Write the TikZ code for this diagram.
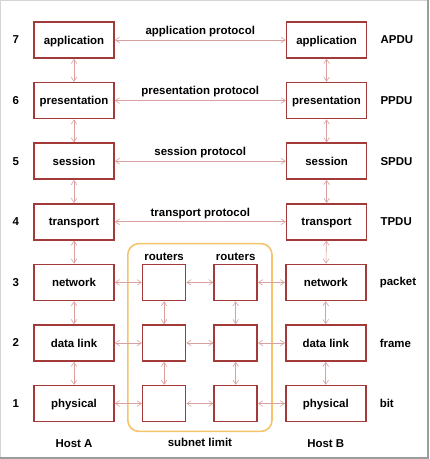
\documentclass[tikz,border=0pt]{standalone}
\usepackage{fontspec}
\setmainfont{Liberation Sans}
\usetikzlibrary{positioning,arrows.meta,fit,backgrounds}
\definecolor{boxred}{HTML}{A33A3A}
\definecolor{linkpink}{HTML}{D9A0A0}
\definecolor{subnet}{HTML}{F5C46A}
\definecolor{framegray}{HTML}{9C9C9C}
\definecolor{framelight}{HTML}{D4D4D4}
\tikzset{
  layer/.style={rectangle,draw=boxred,line width=1.6pt,fill=white,
    minimum width=80bp,minimum height=36bp,inner sep=0pt,outer sep=0.8pt,
    text height=8.3bp,text depth=0pt,
    font=\bfseries\fontsize{11.5}{13}\selectfont},
  router/.style={rectangle,draw=boxred,line width=1.6pt,fill=white,
    minimum width=43bp,minimum height=36bp,inner sep=0pt,outer sep=0.8pt},
  lnk/.style={{Straight Barb[length=1.5mm,width=2mm]}-{Straight Barb[length=1.5mm,width=2mm]},
    draw=linkpink,line width=0.6pt},
  lbl/.style={font=\bfseries\fontsize{11.5}{13}\selectfont,inner sep=0pt},
  limit/.style={draw=subnet,line width=1.6pt,rounded corners=11bp},
}

\begin{document}
\begin{tikzpicture}[x=1bp,y=-1bp,node distance=23bp and 27bp]
  \useasboundingbox (0,0) rectangle (429,459);
  % frame
  \draw[framelight,line width=1bp] (0.5,0.5) rectangle (428,458);
  \draw[framegray,line width=2bp] (428,0) -- (428,458) -- (0,458);

  % host A
  \node[layer] (a7) at (74,40) {application};
  \node[layer,below=of a7] (a6) {presentation};
  \node[layer,below=of a6] (a5) {session};
  \node[layer,below=of a5] (a4) {transport};
  \node[layer,below=of a4] (a3) {network};
  \node[layer,below=of a3] (a2) {data link};
  \node[layer,below=of a2] (a1) {physical};

  % routers
  \node[router,right=of a3] (r3l) {};
  \node[router,right=of a2] (r2l) {};
  \node[router,right=of a1] (r1l) {};
  \node[router,right=of r3l] (r3r) {};
  \node[router,right=of r2l] (r2r) {};
  \node[router,right=of r1l] (r1r) {};
  \node[lbl,above=3bp of r3l] (rtl) {routers};
  \node[lbl,above=3bp of r3r] (rtr) {routers};

  % host B
  \node[layer,right=171bp of a7] (b7) {application};
  \node[layer,right=171bp of a6] (b6) {presentation};
  \node[layer,right=171bp of a5] (b5) {session};
  \node[layer,right=171bp of a4] (b4) {transport};
  \node[layer,right=of r3r] (b3) {network};
  \node[layer,right=of r2r] (b2) {data link};
  \node[layer,right=of r1r] (b1) {physical};

  % subnet limit
  \begin{scope}[on background layer]
    \node[limit,fit=(rtl)(r3l)(r1r),inner xsep=14bp,inner ysep=9bp] (sub) {};
  \end{scope}

  % layer numbers and units
  \foreach \n in {1,...,7} \node[lbl,left=14bp of a\n] (n\n) {\n};
  \node[lbl,right=13bp of b7] (u7) {APDU};
  \node[lbl,right=13bp of b6] (u6) {PPDU};
  \node[lbl,right=13bp of b5] (u5) {SPDU};
  \node[lbl,right=13bp of b4] (u4) {TPDU};
  \node[lbl,right=13bp of b3] (u3) {packet};
  \node[lbl,right=13bp of b2] (u2) {frame};
  \node[lbl,right=13bp of b1] (u1) {bit};

  % bottom labels
  \node[lbl,below=17bp of a1] (ha) {Host A};
  \node[lbl,below=17bp of b1] (hb) {Host B};
  \node[lbl,below=6bp of sub] (sl) {subnet limit};

  % peer protocols
  \draw[lnk] (a7) -- node[lbl,above=3bp] {application protocol} (b7);
  \draw[lnk] (a6) -- node[lbl,above=3bp] {presentation protocol} (b6);
  \draw[lnk] (a5) -- node[lbl,above=3bp] {session protocol} (b5);
  \draw[lnk] (a4) -- node[lbl,above=3bp] {transport protocol} (b4);

  % links
  \foreach \u/\l in {7/6,6/5,5/4,4/3,3/2,2/1} {
    \draw[lnk] (a\u) -- (a\l);
    \draw[lnk] (b\u) -- (b\l);
  }
  \foreach \u/\l in {3/2,2/1} {
    \draw[lnk] (r\u l) -- (r\l l);
    \draw[lnk] (r\u r) -- (r\l r);
  }
  \foreach \r in {1,2,3} {
    \draw[lnk] (a\r) -- (r\r l);
    \draw[lnk] (r\r l) -- (r\r r);
    \draw[lnk] (r\r r) -- (b\r);
  }
\end{tikzpicture}
\end{document}
